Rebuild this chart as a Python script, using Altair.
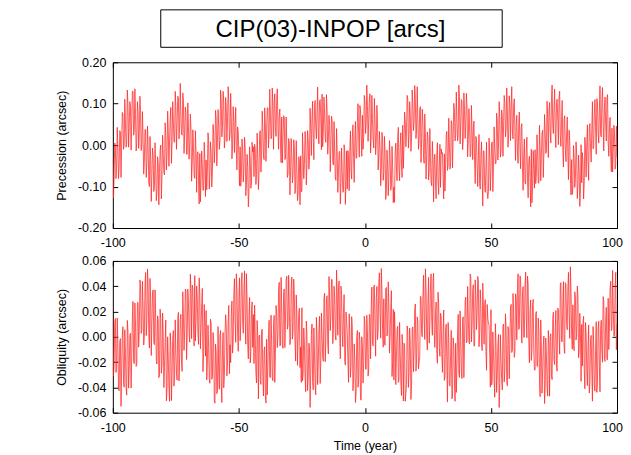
import altair as alt
import pandas as pd

# ---- data ----
title_text = "CIP(03)-INPOP [arcs]"
t_start = -100.0      # first sample of the "a" readings
t_mid_start = -99.75  # first sample of the "b" readings (between the a samples)
t_step = 0.5

# Precession residual, milli-arcsec (0.001"), samples a
precession_a = [
    -31, -80, -1, -52, -7, -55, 31, 3, 75, 1, 56, 5, 97, 43, 92, 60, 130, 33, 74, 9,
    82, 28, 78, -3, 16, -41, 37, -44, 0, -100, -33, -70, -25, -99, -55, -114, -42,
    -66, 0, -76, -22, -72, 25, -24, 33, 10, 91, 6, 60, 7, 93, 52, 115, 45, 73, 24, 109,
    32, 78, -22, 42, 1, 39, -43, -9, -80, -20, -23, -85, -20, -84, -50, -109, -32,
    -36, -65, 14, -72, -17, -65, 26, -7, 65, 6, 46, 10, 107, 43, 102, 15, 90, 58, 104, 29,
    67, -2, 58, 52, -14, 44, -28, -4, -75, -10, -58, -5, -95, -54, -115, -30, -89, -17,
    -76, -10, -71, -32, -67, 35, -24, 43, -35, 51, 31, 90, 27, 78, 22, 95, 100, 43, 109, 44,
    72, 3, 68, 17, 66, -31, 2, -69, 5, -65, -28, -70, -5, -104, -60, -119, -37,
    -26, -110, -26, -47, 13, -45, 11, -37, 45, 61, 16, 95, 42, 83, 27, 105, 65, 123, 34, 74,
    7, 83, 13, 47, 1, 59, -48, -14, -85, -15, -68, -15, -90, -64, -110, -19, -87,
    -106, -30, -16, -62, 18, -30, 16, -32, 55, 26, 96, 20, 72, 18, 107, 50, 95, 58, 124, 24,
    62, -7, 63, 7, 56, -26, -8, -64, 15, -65, -18, -115, -45, -79, -30, -99, -52,
    -101, -20, -51, 18, -57, 0, -49, 48, 0, 56, 31, 110, 22, 73, 17, 100, 55, 113, 39, 64,
    12, 93, 13, 57, -44, 19, -23, 16, -65, -30, -98, -35, -35, -94, -25, -85, -49, -102,
    -21, -75, -21, -47, 33, -50, 6, -42, 50, 16, 86, 25, 62, 23, 117, 50, 105, 13, 84, 49,
    92, 13, 48, -23, 36, 29, -38, 21, -50, -25, -93, -25, -70, -14, -100, -54, -112,
    -111, -25, -61, 8, -52, -10, -44, 58, 0, 66, -14, 70, 47, 103, 37, 85, 25, 93, 94, 34,
    97, 28, 53, -18, 46, -6, 42, -54, -20, -90, -13, -80, -40, -79, -10, -104, -57,
    -11, -75, -11, -92, -7, -25, 36, -22, 35, -14, 66, 80, 32, 108, 52, 90, 30, 103, 59, 114,
    22, 58, -12, 62, -9, 24, -23, 36, -70, -35, -103, -30, -80, -24, -95, -64, -107,
    -91, -40, -91, -12, 3, -40, 41, -7, 40, -9, 76, 45, 112, 33, 82, 25, 110, 48, 89, 49,
    112, 8, 43, -28, 41, -16, 32, -49, -30,
]

# Precession residual, milli-arcsec, samples b
precession_b = [
    -128, 5, -81, 43, -81, 35, -78, 79, -10, 111, -5, 133, -5, 105, -12, 130, 24, 136, -14, 105,
    -8, 118, -13, 81, -70, 38, -78, 46, -90, 21, -136, -7, -112, 6, -134, -28, -144,
    -13, -130, 24, -67, 54, -60, 82, -51, 65, -44, 105, 8, 130, -10, 118, 15, 149, 26, 126, -20,
    92, -22, 102, -34, 75, -87, 37, -74, 35, -114, -16, -142, -137, -14, -109, 7, -124,
    -108, 30, -106, 8, -101, 50, -43, 84, -50, 86, -10, 133, 20, 130, -7, 115, 9, 141, 11, 125,
    -33, 93, -18, 91, -60, 33, -98, -99, 15, -89, 19, -122, -22, -149, -4, -104, 7, -4,
    2, -95, 29, -107, 29, -65, 82, -26, 90, -39, 90, -7, 135, 15, 138, -10, 124, 21, 136, -10,
    87, -42, -43, 71, -35, 68, -78, 16, -120, 16, -91, 13, -117, 11, -134, -28, -144,
    -113, 30, -81, 33, -96, 35, -58, 89, -25, 106, -35, 108, 15, 140, 3, 110, -11, -4, 116, 15,
    122, -22, 72, -64, 70, -42, 57, -79, 40, -114, -16, -142, -7, -114, 1, -143, -14,
    -13, -110, 34, -82, 49, -90, 57, -31, 100, -29, 85, -27, -10, 120, 28, 145, 9, 111, -19, 120,
    12, 113, -23, 96, -60, 33, -98, 31, -85, 21, -131, -12, -122, 11, -109, -3, -139,
    -138, 5, -86, 43, -86, 30, -78, -56, 80, -4, 120, -7, 105, -15, 133, 35, 144, 16, 141, -10,
    87, -42, 87, -29, 75, -82, 32, -84, 40, -89, 9, -137, -22, -129, 6, -119, 2, -9,
    -18, -130, -111, 23, -61, 65, -58, 59, -55, 101, 10, 128, 10, 145, 3, 110, -11, 126, 16, 125,
    -28, 88, -28, 96, -35, 58, -93, 16, -100, 26, -106, 8, -147, -14, -114, 7, -129,
    17, -110, 4, -112, 44, -45, 77, -36, 105, -29, 85, -27, 120, 20, 138, -5, 119, 11, 141, 15,
    112, -37, 72, -44, 80, -57, 52, -109, 15, -94, 19, -127, -27, -149, -139, -13, -104,
    -93, 25, -91, 48, -86, 30, -78, 74, -20, 106, -30, 103, 5, 145, 28, 135, -6, 111, 1, 130,
    -3, 108, -53, 71, -40, 68, -83, 11, -120, -119, -1, -102, 8, -129, -24, -148, 1,
    -18, -130, 19, -77, 49, -85, 52, -41, 105, -4, 110, -22, 105, 5, 143, 20, 139, -14, 116, 10,
    122, -27, 67, -64, -65, 48, -58, 46,
]

# Obliquity residual, units of 0.0001", samples a
obliquity_a = [
    138, -230, 145, -237, -54, -427, -14, -265, 80, -398, -129, -461, 41, -263, 28, -147, 280, -212, 87, -215,
    271, 55, 414, 49, 238, 2, 509, 110, 414, -89, 303, 120, 371, -62, 153, -215, 136,
    -302, 140, -225, 3, -234, 133, -414, -165, -510, -58, -299, 49, -319, -123, -342, 193, -170, 178, -273, 175,
    51, 365, -6, 269, -42, 362, 409, 80, 484, 121, 313, -60, 341, 68, 383, -135, 86,
    208, -220, -85, -367, 106, -317, -24, -525, -120, -430, -278, 11, -371, -99, -403, 18, 93, -200, 248, -63,
    185, -129, 335, 124, 499, 38, 312, -31, 450, 114, 361, 133, 500, -59, 168, -207, 205, -84,
    -212, 0, -365, -7, 6, -347, 46, -315, -110, -458, -19, -241, 131, -323, -32, -347, 170, -122, 177, 5,
    431, -65, 224, -91, 378, 142, 479, 90, 254, -9, 473, 50, 331, -192, 183, -15, 226,
    -82, 230, -285, -57, -434, 23, -324, -75, -290, 102, -419, -141, -459, 17, -202, 163, -190, 18, -193, 345,
    -19, 325, -136, 299, 158, 452, 59, 310, -26, 351, 373, 20, 401, 18, 193, -195, 196,
    18, -360, 55, -227, 76, -337, -184, -445, 50, -348, -29, -501, -69, -203, 108, -257, 30, -262, 167, 245,
    -49, 395, 74, 309, -22, 422, 189, 540, 54, 301, -67, 390, 31, 258, 13, 365, -204,
    -342, 30, -165, 83, -344, -117, -464, -85, -50, -510, -378, 41, -291, -59, -383, 78, -127, 260, -182, 117,
    -195, 321, 25, 314, 129, 538, 22, 289, -50, 394, 131, 443, 30, 171, -112, 353, -85, 186,
    -132, 40, -345, 53, -214, 113, -384, -135, -490, -8, -329, -51, -239, 177, -322, -27, -330, 158, -53, 315,
    -39, 165, -56, 469, 88, 412, -71, 340, 174, 441, 23, 250, -109, 248, 253, -115, 256,
    108, -140, 215, -347, -114, -477, -44, -305, 20, -368, -189, -421, 101, -273, 68, -387, 60, -62, 257, -105,
    181, -115, 304, 369, 58, 482, 139, 350, -6, 411, 153, 480, -29, 198, -187, 255, -114,
    -262, 200, -235, 43, -474, -87, -264, 5, -400, -148, -469, -61, 1, -303, 138, -177, 70, -242, 227, 25,
    411, -35, 254, -71, 428, 112, 379, 170, 554, 11, 253, -110, 311, 28, 323, -105, 26,
    98, 100, -265, 113, -264, -77, -444, -25, -270, 82, -389, -111, -439, 67, -232, 63, -110, 318, -173, 125,
    -179, 305, 84, 439, 68, 252, 9, 510, 104,
]

# Obliquity residual, units of 0.0001", samples b
obliquity_b = [
    -311, 102, -281, 149, -406, -36, -550, 12, -359, 56, -400, 130, -406, 12, -405, 151, -201, 268, -234, 273,
    -82, 450, 27, 439, -65, 396, 10, 537, 28, 462, -148, 356, -45, 371, -186, 166, -323,
    219, -288, 189, -401, -36, -506, 0, -398, 31, -504, -20, -390, 134, -288, 135, -349, 139, -212, 356, -107,
    378, -180, 377, 29, 495, -14, 380, -73, -32, 402, 32, 466, -95, 261, -276, 256, -153,
    -341, 92, -331, 139, -336, 34, -500, -58, -450, 81, -414, 50, -520, 34, -308, 175, -309, 119, -292, -204,
    283, -32, 460, -43, 369, -115, 466, 100, 507, 28, 522, -58, 306, -175, 311, -116, 276, 177,
    249, -288, 129, -491, 14, -376, 60, -468, -79, -524, -460, 10, -316, 172, -325, 101, -361, 248, -84, 363,
    -72, 470, -63, 349, -85, 446, 60, 487, -62, 392, -18, 456, -25, 331, -226, 186, -243,
    -361, -348, 69, -311, 124, -426, -50, -558, 11, -354, 70, -380, 154, -378, 45, -369, 189, -162, 306, -197,
    308, -50, 477, 49, 455, -54, 400, 7, 528, 12, 442, -174, 325, -79, 334, -224, 127,
    -191, 182, -321, 159, -426, -56, -520, -8, -399, 36, -490, 0, -366, 162, -255, 171, -311, 178, -174, 393,
    -72, 410, -153, 399, 45, 506, -10, 377, -82, -48, 382, 6, 435, -129, 224, -314, 217,
    199, -378, 59, -361, 114, -356, 20, -508, -60, -449, 86, -400, 70, -496, 62, -275, 211, -271, 158, -254,
    -167, 318, 0, 487, -21, 385, -104, 470, 97, 498, 12, 502, -84, 275, -209, 274, -154, 157,
    -281, 212, -321, 99, -516, -6, -390, 52, -469, -74, -510, -440, 34, -288, 205, -289, 139, -322, 286, -47,
    398, -40, 497, -41, 365, -74, 450, 57, 478, -78, 372, -44, 425, -59, 294, -264, 147,
    89, -398, -381, 39, -336, 104, -440, -58, -559, 16, -340, 90, -356, 182, -345, 81, -331, 228, -124, 343,
    -162, 340, -23, 499, 65, 466, -50, 397, -2, 512, -8, 416, -205, 291, -116, 296, -263,
    179, -228, 149, -351, 134, -446, -70, -528, -9, -394, 50, -470, 24, -338, 195, -219, 209, -272, 216, -137,
    428, -40, 437, -131, 415, 56, 510, -13, 368, -98, -68, 356, -25, 401, -166, 186, -353,
    -231, 162, -411, 29, -386, 94, -370, 12, -509, -54, -430, 120, -356, 122, -435, 131, -201, 288, -194, 233,
    -182, -100, 377, 49, 525, 6, 400, -103,
]

x_ticks = [-100, -50, 0, 50, 100]
prec_ticks = [-0.2, -0.1, 0.0, 0.1, 0.2]
obl_ticks = [-0.06, -0.04, -0.02, 0.0, 0.02, 0.04, 0.06]


def series(a_vals, b_vals, unit):
    rows = [(t_start + t_step * i, v * unit) for i, v in enumerate(a_vals)]
    rows += [(t_mid_start + t_step * i, v * unit) for i, v in enumerate(b_vals)]
    df = pd.DataFrame(rows, columns=["year", "value"]).sort_values("year")
    return df.reset_index(drop=True)


prec_df = series(precession_a, precession_b, 0.001)
obl_df = series(obliquity_a, obliquity_b, 0.0001)
title_df = pd.DataFrame({"label": [title_text]})

FONT = "Liberation Sans"
W = 505
LINE_COLOR = "#ff2424"
MINUS = "\u2212"


def panel(df, ydomain, yticks, ytitle, height, xtitle=None):
    xs = alt.Scale(domain=[-100, 100], nice=False, zero=False)
    ys = alt.Scale(domain=ydomain, nice=False, zero=False)
    x_main = alt.X(
        "year:Q", scale=xs,
        axis=alt.Axis(
            values=x_ticks, orient="bottom", offset=-5, tickSize=5, domain=False,
            grid=False, labelPadding=9, titlePadding=5, labelFlush=False,
            labelAlign={"condition": {"test": "datum.value == 100", "value": "right"}, "value": "center"},
            labelOffset={"condition": {"test": "datum.value == 100", "value": 5.5}, "value": 0},
            labelExpr=f"replace(format(datum.value, 'd'), '{MINUS}', '-')",
            title=xtitle if xtitle else None,
        ),
    )
    y_main = alt.Y(
        "value:Q", scale=ys,
        axis=alt.Axis(
            values=yticks, orient="left", offset=-5, tickSize=5, domain=False,
            grid=False, labelPadding=7, titlePadding=9, title=ytitle, labelFlush=False,
            labelExpr=f"replace(format(datum.value, '.2f'), '{MINUS}', '-')",
        ),
    )
    line = alt.Chart(df).mark_line(
        color=LINE_COLOR, strokeWidth=1.0, opacity=0.75, clip=True
    ).encode(x=x_main, y=y_main)

    x_top = alt.X(
        "year:Q", scale=xs,
        axis=alt.Axis(values=x_ticks, orient="top", offset=-5, tickSize=5,
                      domain=False, grid=False, labels=False, title=None),
    )
    y_right = alt.Y(
        "value:Q", scale=ys,
        axis=alt.Axis(values=yticks, orient="right", offset=-5, tickSize=5,
                      domain=False, grid=False, labels=False, title=None),
    )
    ghost = alt.Chart(df).mark_line(strokeOpacity=0, clip=True).encode(x=x_top, y=y_right)
    return alt.layer(line, ghost).resolve_axis(x="independent", y="independent").properties(
        width=W, height=height
    )


top = panel(prec_df, [-0.2, 0.2], prec_ticks, "Precession (arcsec)", 166)

box = alt.Chart(title_df).mark_rect(fill="white", stroke="black", strokeWidth=1).encode(
    x=alt.value(48), x2=alt.value(390), y=alt.value(-52.5), y2=alt.value(-15)
)
box_text = alt.Chart(title_df).mark_text(
    font=FONT, fontSize=24, align="center", baseline="alphabetic", color="black"
).encode(x=alt.value(218), y=alt.value(-25), text="label:N")

top = alt.layer(top, box, box_text).properties(width=W, height=166)

bottom = panel(obl_df, [-0.06, 0.06], obl_ticks, "Obliquity (arcsec)", 152, xtitle="Time (year)")

chart = alt.vconcat(top, bottom, spacing=33, bounds="flush").properties(
    padding={"left": 47, "top": 0, "right": 0, "bottom": 0}
).configure(
    background="white",
).configure_view(
    stroke="black", strokeWidth=1
).configure_axis(
    labelFont=FONT, labelFontSize=12.5, labelColor="black",
    titleFont=FONT, titleFontSize=12.5, titleFontWeight="normal", titleColor="black",
    tickColor="black", tickWidth=1,
)

chart.save("out.html", embed_options={"renderer": "svg", "actions": False})
